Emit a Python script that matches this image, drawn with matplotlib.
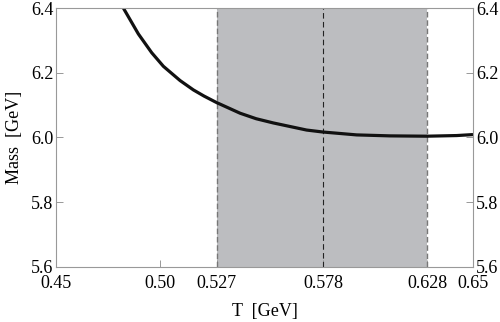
import matplotlib.pyplot as plt

plt.rcParams['font.family'] = ['Liberation Serif', 'DejaVu Serif']

# curve
T = [0.4823, 0.4895, 0.4959, 0.5015, 0.5095, 0.5159, 0.5210, 0.5270, 0.5383,
     0.5460, 0.5542, 0.5702, 0.5779, 0.5942, 0.6102, 0.6278, 0.6422, 0.6500]
mass = [6.400, 6.320, 6.262, 6.220, 6.176, 6.147, 6.128, 6.108, 6.075,
        6.058, 6.045, 6.023, 6.017, 6.008, 6.005, 6.004, 6.006, 6.009]

t_low, t_mid, t_high = 0.527, 0.578, 0.628
xticks = [0.45, 0.50, t_low, t_mid, t_high, 0.65]
xticklabels = ["0.45", "0.50", "0.527", "0.578", "0.628", "0.65"]
yticks = [5.6, 5.8, 6.0, 6.2, 6.4]

fig = plt.figure(figsize=(5.0, 3.22), dpi=100)
ax = fig.add_axes([0.112, 0.171, 0.834, 0.804])

ax.axvspan(t_low, t_high, color="#bcbdc0", lw=0, zorder=0)
ax.axvline(t_low, color="#777777", ls=(0, (4, 2)), lw=1.0)
ax.axvline(t_high, color="#777777", ls=(0, (4, 2)), lw=1.0)
ax.axvline(t_mid, color="#222222", ls=(0, (5, 3)), lw=0.8)

ax.plot(T, mass, color="#111111", lw=2.3, solid_capstyle="butt", solid_joinstyle="round")

ax.set_xlim(0.45, 0.65)
ax.set_ylim(5.6, 6.4)
ax.set_xticks(xticks)
ax.set_xticklabels(xticklabels)
ax.set_yticks(yticks)
ax.set_yticklabels([f"{v:.1f}" for v in yticks])

ax.tick_params(direction="in", length=5, width=0.6, color="#888888",
               labelsize=13, right=True, labelright=True, pad=2)
ax.tick_params(axis="x", pad=6)
for s in ax.spines.values():
    s.set_color("#999999")
    s.set_linewidth(0.8)

ax.set_xlabel("T  [GeV]", fontsize=13, labelpad=8)
ax.set_ylabel("Mass  [GeV]", fontsize=13, labelpad=6)

fig.savefig("out.png", dpi=100)
